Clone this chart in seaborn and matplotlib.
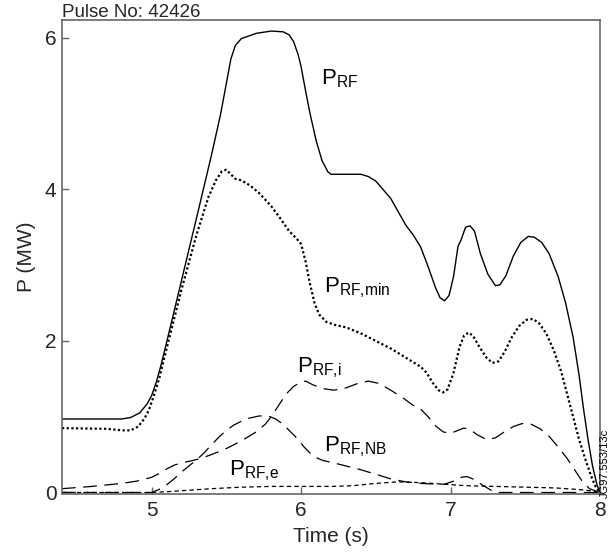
import matplotlib
matplotlib.use("Agg")
import matplotlib.pyplot as plt
import seaborn as sns
import pandas as pd

# Total coupled RF power
t_rf = [4.40, 4.80, 4.86, 4.92, 4.97, 5.00, 5.03, 5.06, 5.10, 5.20, 5.30, 5.40, 5.46,
        5.50, 5.53, 5.56, 5.60, 5.70, 5.80, 5.88, 5.92, 5.95, 5.98, 6.00, 6.03, 6.06,
        6.10, 6.14, 6.18, 6.20, 6.40, 6.45, 6.50, 6.60, 6.70, 6.75, 6.80, 6.85, 6.90,
        6.93, 6.96, 6.99, 7.02, 7.05, 7.07, 7.10, 7.13, 7.16, 7.20, 7.25, 7.30, 7.33,
        7.37, 7.42, 7.47, 7.52, 7.56, 7.61, 7.66, 7.72, 7.77, 7.82, 7.86, 7.89, 7.92,
        7.95, 7.98, 8.00]
p_rf = [0.97, 0.97, 0.99, 1.05, 1.17, 1.28, 1.45, 1.66, 1.98, 2.80, 3.62, 4.45, 4.98,
        5.40, 5.72, 5.90, 5.99, 6.06, 6.09, 6.08, 6.04, 5.95, 5.78, 5.62, 5.30, 5.00,
        4.65, 4.38, 4.23, 4.20, 4.20, 4.17, 4.11, 3.88, 3.53, 3.40, 3.24, 2.98, 2.70,
        2.57, 2.53, 2.60, 2.85, 3.25, 3.33, 3.50, 3.52, 3.45, 3.15, 2.88, 2.73, 2.74,
        2.86, 3.12, 3.30, 3.38, 3.37, 3.30, 3.15, 2.85, 2.50, 2.05, 1.55, 1.10, 0.70,
        0.35, 0.10, 0.00]

# Power absorbed by the minority species
t_min = [4.40, 4.70, 4.80, 4.86, 4.91, 4.95, 4.98, 5.01, 5.05, 5.10, 5.20, 5.30, 5.38,
         5.43, 5.47, 5.50, 5.53, 5.56, 5.60, 5.66, 5.72, 5.80, 5.86, 5.92, 5.97, 6.00,
         6.03, 6.06, 6.09, 6.12, 6.17, 6.23, 6.30, 6.40, 6.50, 6.60, 6.70, 6.80, 6.84,
         6.88, 6.92, 6.95, 6.98, 7.02, 7.06, 7.09, 7.12, 7.15, 7.19, 7.24, 7.28, 7.32,
         7.36, 7.41, 7.46, 7.51, 7.55, 7.59, 7.64, 7.69, 7.74, 7.78, 7.82, 7.86, 7.90,
         7.94, 7.97, 8.00]
p_min = [0.85, 0.84, 0.82, 0.82, 0.87, 0.97, 1.08, 1.25, 1.50, 1.90, 2.68, 3.40, 3.90,
         4.12, 4.24, 4.26, 4.20, 4.14, 4.12, 4.05, 3.95, 3.78, 3.62, 3.45, 3.35, 3.28,
         3.05, 2.75, 2.50, 2.35, 2.25, 2.21, 2.18, 2.10, 2.00, 1.90, 1.78, 1.66, 1.58,
         1.45, 1.35, 1.32, 1.36, 1.58, 1.92, 2.07, 2.11, 2.07, 1.93, 1.78, 1.71, 1.73,
         1.85, 2.05, 2.20, 2.28, 2.29, 2.24, 2.10, 1.88, 1.60, 1.30, 1.00, 0.70, 0.45,
         0.22, 0.08, 0.00]

# Power to the bulk ions
t_i = [4.40, 4.60, 4.80, 4.90, 5.00, 5.05, 5.10, 5.15, 5.20, 5.27, 5.33, 5.40, 5.50,
       5.60, 5.70, 5.76, 5.80, 5.85, 5.90, 5.95, 6.00, 6.03, 6.08, 6.15, 6.22, 6.30,
       6.38, 6.45, 6.52, 6.60, 6.68, 6.75, 6.80, 6.85, 6.90, 6.95, 7.00, 7.05, 7.09,
       7.13, 7.18, 7.24, 7.30, 7.36, 7.42, 7.48, 7.54, 7.60, 7.66, 7.72, 7.78, 7.83,
       7.88, 7.93, 8.00]
p_i = [0.05, 0.08, 0.12, 0.15, 0.20, 0.25, 0.31, 0.36, 0.39, 0.42, 0.45, 0.50, 0.58,
       0.68, 0.80, 0.90, 1.00, 1.15, 1.30, 1.40, 1.46, 1.47, 1.42, 1.37, 1.35, 1.38,
       1.44, 1.47, 1.44, 1.35, 1.25, 1.15, 1.10, 1.00, 0.88, 0.80, 0.78, 0.82, 0.85,
       0.83, 0.76, 0.70, 0.72, 0.80, 0.87, 0.91, 0.90, 0.84, 0.74, 0.60, 0.45, 0.30,
       0.15, 0.05, 0.00]

# Power to the neutral-beam ions
t_nb = [4.40, 5.00, 5.05, 5.10, 5.15, 5.20, 5.25, 5.30, 5.35, 5.40, 5.45, 5.50, 5.55,
        5.60, 5.65, 5.72, 5.78, 5.83, 5.88, 5.93, 5.98, 6.02, 6.06, 6.10, 6.15, 6.22,
        6.30, 6.40, 6.50, 6.60, 6.70, 6.80, 6.90, 6.96, 7.02, 7.07, 7.11, 7.16, 7.22,
        7.28, 7.31, 8.00]
p_nb = [0.00, 0.00, 0.04, 0.10, 0.18, 0.27, 0.35, 0.43, 0.52, 0.63, 0.73, 0.82, 0.89,
        0.94, 0.98, 1.01, 1.01, 0.97, 0.90, 0.80, 0.70, 0.60, 0.52, 0.46, 0.42, 0.39,
        0.35, 0.30, 0.24, 0.18, 0.14, 0.12, 0.11, 0.11, 0.15, 0.20, 0.21, 0.17, 0.09,
        0.02, 0.00, 0.00]

# Power to the electrons
t_e = [4.40, 5.00, 5.10, 5.25, 5.40, 5.60, 5.80, 6.00, 6.20, 6.35, 6.50, 6.65, 6.80,
       6.95, 7.10, 7.30, 7.50, 7.70, 7.85, 7.95, 8.00]
p_e = [0.00, 0.00, 0.01, 0.03, 0.05, 0.07, 0.08, 0.08, 0.08, 0.09, 0.12, 0.14, 0.13,
       0.11, 0.09, 0.08, 0.07, 0.06, 0.04, 0.02, 0.00]

x_ticks = [5, 6, 7, 8]
y_ticks = [0, 2, 4, 6]

sns.set_theme(style="white")
plt.rcParams["font.family"] = ["Liberation Sans", "DejaVu Sans"]
plt.rcParams["mathtext.default"] = "regular"

fig = plt.figure(figsize=(6.10, 5.53), dpi=100)
ax = fig.add_axes([0.1016, 0.1067, 0.8820, 0.8563])

series = [
    (t_rf, p_rf, dict(linestyle="-", linewidth=1.0)),
    (t_min, p_min, dict(linestyle=(0, (1, 1.1)), linewidth=1.6)),
    (t_i, p_i, dict(linestyle=(0, (11, 6)), linewidth=0.9)),
    (t_nb, p_nb, dict(linestyle=(0, (11, 6)), linewidth=0.9)),
    (t_e, p_e, dict(linestyle=(0, (3.5, 2.5)), linewidth=0.9)),
]
for t, p, style in series:
    df = pd.DataFrame({"t": t, "p": p})
    sns.lineplot(data=df, x="t", y="p", ax=ax, color="black", estimator=None,
                 sort=False, **style)

ax.set_xlim(4.40, 8.0)
ax.set_ylim(-0.02, 6.23)
ax.set_xticks(x_ticks)
ax.set_yticks(y_ticks)
ax.tick_params(direction="in", length=5, width=1.0, color="#666666",
               labelsize=15, left=True, bottom=True, top=False, right=False)
ax.tick_params(axis="y", pad=4)
ax.tick_params(axis="x", pad=5)
for side in ["left", "right", "top", "bottom"]:
    ax.spines[side].set_color("#666666")
    ax.spines[side].set_linewidth(1.2)
    ax.spines[side].set_visible(True)

ax.set_xlabel("Time (s)", fontsize=15, labelpad=5)
ax.set_ylabel("P (MW)", fontsize=15, labelpad=6)
ax.set_title("Pulse No: 42426", loc="left", fontsize=13.5, pad=2.5)

label_kw = dict(fontsize=16, ha="left", va="baseline", color="black")
ax.text(6.13, 5.38, r"$P_{RF}$", **label_kw)
ax.text(6.15, 2.64, r"$P_{RF{,}min}$", **label_kw)
ax.text(5.97, 1.58, r"$P_{RF{,}i}$", **label_kw)
ax.text(6.15, 0.54, r"$P_{RF{,}NB}$", **label_kw)
ax.text(5.52, 0.22, r"$P_{RF{,}e}$", **label_kw)

fig.text(0.999, 0.10, "JG97.553/13c", rotation=90, ha="right", va="bottom",
         fontsize=8, color="black")

fig.savefig("out.png", dpi=100, facecolor="white")
